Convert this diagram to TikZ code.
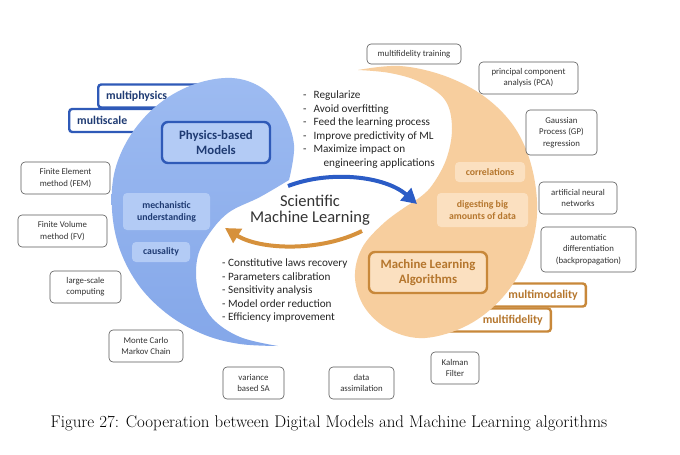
\documentclass[tikz,border=0pt]{standalone}
\usepackage{fontspec}
\usepackage{tikz}
\usetikzlibrary{arrows.meta}
\newfontfamily\carlito{Carlito}
\definecolor{blobtop}{HTML}{9DBBF1}
\definecolor{blobbot}{HTML}{84A7E9}
\definecolor{boxblue}{HTML}{B3CBF5}
\definecolor{lineblue}{HTML}{2F5AB8}
\definecolor{textblue}{HTML}{1F3B73}
\definecolor{arrowblue}{HTML}{2B5CC6}
\definecolor{bloborange}{HTML}{F7CE9E}
\definecolor{boxorange}{HTML}{FBE0C0}
\definecolor{lineorange}{HTML}{C8883A}
\definecolor{textorange}{HTML}{B5762D}
\definecolor{arroworange}{HTML}{D6913C}

\begin{document}
\begin{tikzpicture}[x=1pt,y=-1pt,
  tool/.style={draw=black!65,line width=0.6pt,rounded corners=4pt,fill=white,align=center,inner sep=0pt,text=black!80,font=\carlito\fontsize{8.8}{11.3}\selectfont},
  tag/.style={draw=#1,line width=2.4pt,rounded corners=3pt,fill=white,inner xsep=8pt,inner ysep=0pt,minimum height=23pt,font=\carlito\bfseries\fontsize{11.8}{13}\selectfont},
  core/.style={draw=#1,line width=2.4pt,rounded corners=6pt,align=center,inner sep=0pt,font=\carlito\bfseries\fontsize{12.8}{15.5}\selectfont},
  pill/.style={fill=#1,rounded corners=4pt,align=center,inner sep=0pt,font=\carlito\bfseries\fontsize{9.8}{12}\selectfont},
  bullets/.style={align=left,inner sep=0pt,anchor=north west,text=black!85,font=\carlito\fontsize{11.2}{13.5}\selectfont}]
\fill[white] (0,0) rectangle (680,455);

\node[tag=lineblue,text=textblue,anchor=west,text width=127pt,align=left] (mphys) at (97,96) {multiphysics};
\node[tag=lineblue,text=textblue,anchor=west,text width=116pt,align=left] (mscale) at (68,120.5) {multiscale};
\node[tag=lineorange,text=textorange,anchor=east,text width=131pt,align=right] (mmod) at (587,295) {multimodality};
\node[tag=lineorange,text=textorange,anchor=east,text width=116pt,align=right] (mfid) at (552,320) {multifidelity};

\shade[top color=blobtop,bottom color=blobbot] plot[smooth,tension=0.6] coordinates {(289,180) (294,145) (283,112) (262,88) (232,78) (195,84) (160,103) (132,133) (115,170) (112,210) (120,250) (140,287) (170,316) (205,335) (240,344) (278,346)}
  -- plot[smooth,tension=0.6] coordinates {(278,346) (240,337) (212,318) (198,290) (197,260) (207,237) (228,213) (260,197) (289,180)} -- cycle;
\fill[bloborange] plot[smooth,tension=0.6] coordinates {(358,70) (400,66) (445,76) (485,97) (515,128) (532,168) (537,215) (527,258) (503,297) (468,325) (425,338) (390,330) (365,308) (355,278) (362,248) (385,222) (413,202)}
  -- plot[smooth,tension=0.6] coordinates {(413,202) (430,188) (446,160) (452,128) (445,100) (420,82) (390,73) (358,70)} -- cycle;

\node[core=lineblue,fill=boxblue,text=textblue,minimum width=108pt,minimum height=41pt] (pbm) at (216,142.5) {Physics-based\\Models};
\node[pill=boxblue,text=textblue,minimum width=87pt,minimum height=37pt] (mech) at (166.5,211.5) {mechanistic\\understanding};
\node[pill=boxblue,text=textblue,minimum width=58pt,minimum height=20pt] (caus) at (161,252) {causality};
\node[pill=boxorange,text=textorange,minimum width=70pt,minimum height=20pt] (corr) at (490,172) {correlations};
\node[pill=boxorange,text=textorange,minimum width=91pt,minimum height=34pt] (dig) at (482.5,210) {digesting big\\amounts of data};
\node[core=lineorange,fill=boxorange,text=textorange,minimum width=118pt,minimum height=41pt] (mla) at (428,272.5) {Machine Learning\\Algorithms};

\foreach \n/\x/\y/\w/\h/\t in {mft/414/54/94/20/{multifidelity training}, pca/528.5/78/99/32/{principal component\\analysis (PCA)},
  gp/561.5/132.5/71/45/{Gaussian\\Process (GP)\\regression}, ann/578/198/78/32/{artificial neural\\networks},
  ad/588.5/249.5/95/45/{automatic\\differentiation\\(backpropagation)}, kf/455/368/48/32/{Kalman\\Filter},
  da/361.5/383/65/32/{data\\assimilation}, vsa/253.5/383/61/32/{variance\\based SA}, mcmc/146/346/74/32/{Monte Carlo\\Markov Chain},
  lsc/85.5/287/71/32/{large-scale\\computing}, fv/62.5/231/89/32/{Finite Volume\\method (FV)}, fem/65.5/178/89/32/{Finite Element\\method (FEM)}}
  \node[tool,minimum width=\w,minimum height=\h] (\n) at (\x,\y) {\t};

\node[bullets] (goals) at (303,91) {-\hspace{7pt}Regularize\\-\hspace{7pt}Avoid overfitting\\-\hspace{7pt}Feed the learning process\\-\hspace{7pt}Improve predictivity of ML\\-\hspace{7pt}Maximize impact on\\\hphantom{-}\hspace{17pt}engineering applications};
\node[bullets] (tasks) at (222,259) {- Constitutive laws recovery\\- Parameters calibration\\- Sensitivity analysis\\- Model order reduction\\- Efficiency improvement};
\node[align=center,inner sep=0pt,text=black!80,font=\carlito\fontsize{16.5}{16.5}\selectfont] (sciml) at (310,210) {Scientific\\Machine Learning};

\coordinate (b0) at (288,186);
\coordinate (b1) at (417,204);
\coordinate (o0) at (362,231);
\coordinate (o1) at (225,228);
\draw[arrowblue,line width=4pt,-{Triangle[length=15pt,width=16pt]}] (b0) .. controls (330,170) and (385,176) .. (b1);
\draw[arroworange,line width=4pt,-{Triangle[length=15pt,width=16pt]}] (o0) .. controls (320,252) and (260,250) .. (o1);

\node[inner sep=0pt,font=\fontsize{16.9}{19}\selectfont] (cap) at (329,423) {Figure 27: Cooperation between Digital Models and Machine Learning algorithms};
\end{tikzpicture}
\end{document}
